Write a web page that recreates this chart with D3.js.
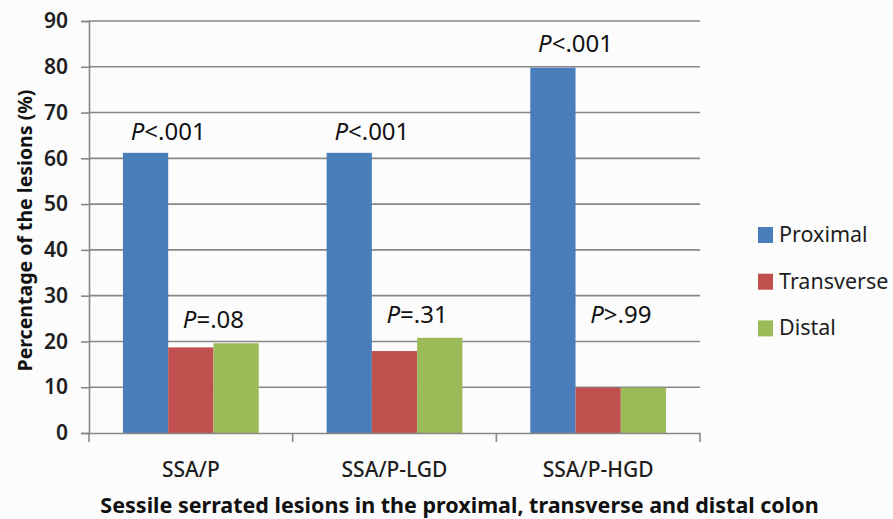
<!DOCTYPE html>
<html>
<head>
<meta charset="utf-8">
<script src="https://cdn.jsdelivr.net/npm/d3@7"></script>
<style>
  html, body { margin: 0; padding: 0; background: #fcfcfd; }
  svg { display: block; font-family: "Noto Sans", "Open Sans", sans-serif; }
</style>
</head>
<body>
<svg id="chart" width="893" height="519"></svg>
<script>
// ---- data ----
const categories = ["SSA/P", "SSA/P-LGD", "SSA/P-HGD"];
const seriesNames = ["Proximal", "Transverse", "Distal"];
const proximal   = [61.2, 61.2, 79.8];
const transverse = [18.7, 17.9, 9.9];
const distal     = [19.6, 20.8, 9.9];
const yTicks = [0, 10, 20, 30, 40, 50, 60, 70, 80, 90];
// annotations: category, label after italic "P", anchor series, level (value units)
const annotCategory = ["SSA/P", "SSA/P-LGD", "SSA/P-HGD", "SSA/P", "SSA/P-LGD", "SSA/P-HGD"];
const annotText     = ["<.001", "<.001", "<.001", "=.08", "=.31", ">.99"];
const annotAnchor   = ["Transverse", "Transverse", "Transverse", "Distal", "Distal", "Distal"];
const annotLevel    = [64, 64, 83.2, 22.9, 24, 24];
const colors = ["#4a7ebb", "#c0504d", "#9bbb59"];
const yTitle = "Percentage of the lesions (%)";
const xTitle = "Sessile serrated lesions in the proximal, transverse and distal colon";

const seriesValues = [proximal, transverse, distal];
const table = categories.map((c, i) => ({
  category: c,
  values: seriesNames.map((s, j) => ({ series: s, value: seriesValues[j][i], color: colors[j] }))
}));

const FONT = "'Noto Sans', 'Open Sans', sans-serif";
const svg = d3.select("#chart");
const mLeft = 89, mRight = 700, mTop = 21, mBottom = 433;

const x0 = d3.scaleBand().domain(categories).range([mLeft, mRight]).paddingInner(0).paddingOuter(0);
const x1 = d3.scaleBand().domain(seriesNames).range([0, x0.bandwidth()]).paddingInner(0).paddingOuter(0.75);
const y = d3.scaleLinear().domain([0, 90]).range([mBottom, mTop]);
const color = d3.scaleOrdinal().domain(seriesNames).range(colors);

// gridlines
svg.append("g")
  .selectAll("line").data(yTicks.filter(d => d > 0)).join("line")
  .attr("x1", mLeft).attr("x2", mRight)
  .attr("y1", d => y(d)).attr("y2", d => y(d))
  .attr("stroke", "#878787").attr("stroke-width", 1.6);

// bars
const groups = svg.append("g").selectAll("g").data(table).join("g")
  .attr("transform", d => `translate(${x0(d.category)},0)`);
groups.selectAll("rect").data(d => d.values).join("rect")
  .attr("x", d => x1(d.series))
  .attr("width", x1.bandwidth())
  .attr("y", d => y(d.value))
  .attr("height", d => y(0) - y(d.value))
  .attr("fill", d => color(d.series));

// y axis
const yAxis = svg.append("g").attr("transform", `translate(${mLeft},0)`)
  .call(d3.axisLeft(y).tickValues(yTicks).tickSize(8).tickPadding(13).tickFormat(d3.format("d")));
yAxis.attr("font-family", FONT);
yAxis.select(".domain").attr("stroke", "#878787").attr("stroke-width", 1.6);
yAxis.selectAll(".tick line").attr("stroke", "#878787").attr("stroke-width", 1.6);
yAxis.selectAll(".tick text").attr("font-size", 21).attr("fill", "#1e1e1e").attr("font-weight", 600);

// x axis
const xAxis = svg.append("g").attr("transform", `translate(0,${mBottom})`)
  .call(d3.axisBottom(x0).tickValues([]).tickSizeOuter(0));
xAxis.attr("font-family", FONT);
xAxis.select(".domain").attr("stroke", "#878787").attr("stroke-width", 1.6);
const xTickPos = [mLeft, ...categories.map(c => x0(c) + x0.bandwidth())];
xAxis.append("g").selectAll("line").data(xTickPos).join("line")
  .attr("x1", d => d).attr("x2", d => d).attr("y1", 0).attr("y2", 9)
  .attr("stroke", "#878787").attr("stroke-width", 1.6);
xAxis.append("g").selectAll("text").data(categories).join("text")
  .attr("x", d => x0(d) + x0.bandwidth() / 2)
  .attr("y", 44)
  .attr("text-anchor", "middle")
  .attr("font-size", 21).attr("font-weight", 500).attr("fill", "#1e1e1e")
  .text(d => d);

// axis titles
svg.append("text")
  .attr("transform", `translate(32,${(75 + 386) / 2}) rotate(-90)`)
  .attr("text-anchor", "middle")
  .attr("font-size", 19.5).attr("font-weight", 700).attr("fill", "#111")
  .text(yTitle);
svg.append("text")
  .attr("x", (mLeft + mRight) / 2 + 65)
  .attr("y", 513)
  .attr("text-anchor", "middle")
  .attr("font-size", 21.5).attr("font-weight", 700).attr("fill", "#111")
  .text(xTitle);

// annotations
const annots = annotText.map((t, i) => ({ cat: annotCategory[i], text: t, anchor: annotAnchor[i], level: annotLevel[i] }));
const at = svg.append("g").selectAll("text").data(annots).join("text")
  .attr("x", d => x0(d.cat) + x1(d.anchor))
  .attr("y", d => y(d.level))
  .attr("text-anchor", "middle")
  .attr("font-size", 24).attr("fill", "#111");
at.append("tspan").attr("font-style", "italic").text("P");
at.append("tspan").text(d => d.text);

// legend
const legend = svg.append("g").selectAll("g").data(seriesNames).join("g")
  .attr("transform", (d, i) => `translate(758,${227 + i * 46.7})`);
legend.append("rect").attr("width", 15).attr("height", 16).attr("fill", d => color(d));
legend.append("text").attr("x", 21).attr("y", 15)
  .attr("font-size", 21.5).attr("fill", "#1e1e1e").text(d => d);
</script>
</body>
</html>
